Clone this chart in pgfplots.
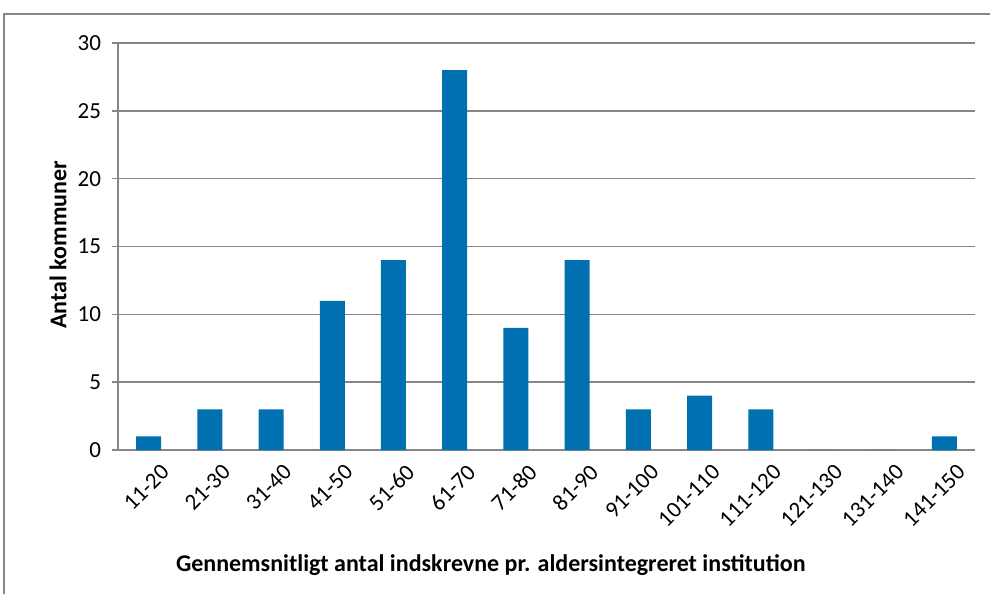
\documentclass[border=0pt]{standalone}
\usepackage{pgfplots}
\pgfplotsset{compat=1.18}
\usepackage{fontspec}
\setmainfont{Carlito}
\definecolor{barblue}{RGB}{0,112,176}
\definecolor{axgray}{RGB}{134,134,134}
\begin{document}
\begin{tikzpicture}[x=0.5pt,y=-0.5pt]
\useasboundingbox (0,0) rectangle (990,594);
\begin{scope}
\clip (0,0) rectangle (990,594);
\draw[axgray, line width=1pt] (4,14) rectangle (1000,610);
\end{scope}
\begin{axis}[
  at={(59pt,-225pt)}, anchor=south west,
  scale only axis, width=428.5pt, height=203.5pt,
  xmin=-0.5, xmax=13.5, ymin=0, ymax=30,
  ytick={0,5,...,30},
  xtick={0,...,13},
  xticklabels={11-20,21-30,31-40,41-50,51-60,61-70,71-80,81-90,91-100,101-110,111-120,121-130,131-140,141-150},
  axis x line*=bottom, axis y line*=left,
  axis line style={axgray, line width=0.8pt, -},
  ymajorgrids, grid style={axgray, line width=0.8pt},
  tick align=outside,
  x tick style={draw=none},
  y tick style={axgray, line width=0.8pt},
  major tick length=3pt,
  /pgf/number format/assume math mode=true,
  tick label style={font=\fontsize{11.5}{13}\selectfont, black},
  xticklabel style={rotate=45, anchor=north east, xshift=5pt, yshift=-3pt},
  yticklabel style={xshift=-2pt},
  xlabel={Gennemsnitligt antal indskrevne pr. aldersintegreret institution},
  ylabel={Antal kommuner},
  label style={font=\bfseries\fontsize{12}{14}\selectfont},
  xlabel style={at={(axis description cs:0.435,-0.283)}, anchor=center},
  ylabel style={at={(axis description cs:-0.07,0.504)}, anchor=center, rotate=0},
  clip=false,
]
\addplot[ybar, bar width=12.5pt, bar shift=0pt, fill=barblue, draw=none]
  coordinates {(0,1) (1,3) (2,3) (3,11) (4,14) (5,28) (6,9) (7,14) (8,3) (9,4) (10,3) (11,0) (12,0) (13,1)};
\end{axis}
\end{tikzpicture}
\end{document}
